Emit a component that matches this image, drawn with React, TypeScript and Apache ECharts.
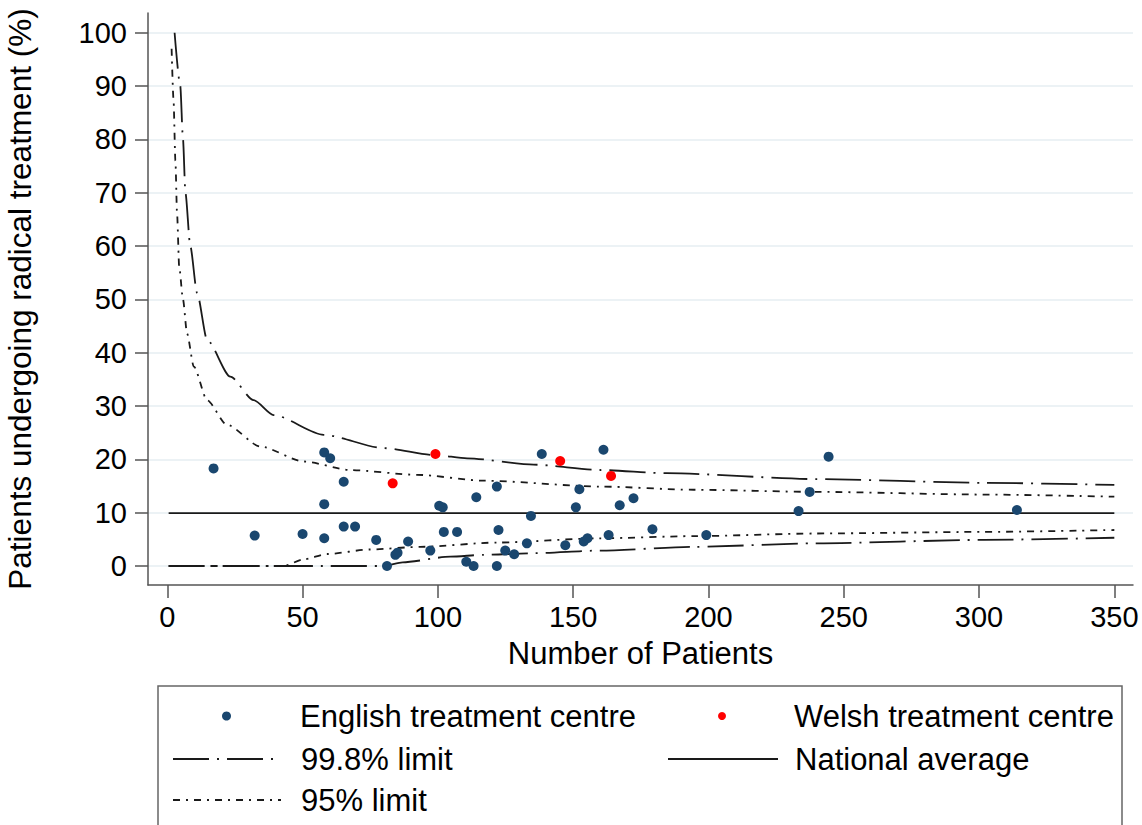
import React, { useEffect, useRef } from "react";
import * as echarts from "echarts";

const englishCentres: [number, number][] = [
  [17.1, 18.3], [32.3, 5.7], [50.0, 6.0], [58.0, 21.3], [60.2, 20.2], [58.0, 11.6],
  [58.0, 5.2], [65.2, 15.8], [65.2, 7.4], [69.4, 7.4], [77.2, 4.9], [81.2, 0],
  [84.3, 2.1], [85.1, 2.5], [89.0, 4.6], [97.2, 2.9], [100.5, 11.3], [101.8, 11.0],
  [102.2, 6.4], [107.1, 6.4], [114.2, 12.9], [110.5, 0.8], [113.2, 0], [121.8, 14.9],
  [122.4, 6.75], [121.8, 0], [124.9, 2.9], [128.2, 2.2], [132.9, 4.25], [134.4, 9.4],
  [138.4, 21.0], [147.1, 3.9], [151.0, 11.0], [152.3, 14.4], [153.9, 4.6], [155.3, 5.2],
  [161.2, 21.8], [163.1, 5.8], [167.2, 11.4], [172.3, 12.7], [179.3, 6.9], [199.2, 5.8],
  [233.3, 10.3], [237.4, 13.9], [244.4, 20.5], [314.0, 10.5],
];

const welshCentres: [number, number][] = [
  [83.3, 15.5], [99.1, 21.0], [145.2, 19.7], [164.0, 16.9],
];

const upper998: [number, number][] = [
  [2.7, 100], [4.8, 90], [5.8, 80], [6.7, 70], [8.5, 60], [11, 51.2], [14.7, 42.4],
  [23.3, 35.5], [31.9, 31.1], [39.3, 28.3], [57.8, 24.6], [80, 22.1], [99, 20.8],
  [110.8, 20.2], [135.4, 19.0], [160, 18.0], [184.6, 17.4], [240, 16.3], [301.7, 15.6],
  [350, 15.2],
];

const lower998: [number, number][] = [
  [0.5, 0], [80, 0], [87, 0.7], [104.6, 1.75], [117, 2.1], [135.4, 2.4], [160, 2.9],
  [194.5, 3.6], [240, 4.25], [301.7, 4.9], [350, 5.3],
];

const upper95: [number, number][] = [
  [1.6, 97], [2.3, 87.4], [3.0, 76], [3.6, 66.2], [4.4, 56.1], [5.8, 50], [7.3, 43.6],
  [9.8, 37.4], [14.7, 31.1], [22, 26.5], [34.4, 22.4], [50.4, 19.6], [67.6, 18],
  [92.3, 17.1], [117, 16.0], [160, 14.9], [194.5, 14.3], [240, 13.9], [301.7, 13.4],
  [350, 13.0],
];

const lower95: [number, number][] = [
  [0.5, 0], [43, 0], [50.4, 1.25], [59, 2.25], [75, 3.1], [93.5, 3.6], [121.8, 4.4],
  [160, 5.2], [194.5, 5.6], [240, 6.1], [301.7, 6.4], [350, 6.75],
];

const nationalAverage: [number, number][] = [[0.5, 9.9], [350, 9.9]];

const xTicks = [0, 50, 100, 150, 200, 250, 300, 350];
const yTicks = [0, 10, 20, 30, 40, 50, 60, 70, 80, 90, 100];

const FONT = "'Liberation Sans', Arial, Helvetica, sans-serif";
const LINE_COLOR = "#1a1a1a";
const DASH_998 = [36, 8, 2, 8];
const DASH_95 = [7, 6, 2, 6];

export default function App() {
  const ref = useRef<HTMLDivElement>(null);

  useEffect(() => {
    if (!ref.current) return;
    const chart = echarts.init(ref.current, null, { renderer: "svg" });

    const legendText = {
      fontFamily: FONT,
      fontSize: 31,
      color: "#000",
      lineHeight: 32,
    };

    const mkLegend = (
      name: string,
      left: number,
      cy: number,
      w: number,
      h: number,
      pad: number,
      isLine: boolean
    ) => ({
      data: [name],
      left,
      top: cy - 16,
      orient: "horizontal",
      padding: 0,
      itemWidth: w,
      itemHeight: h,
      selectedMode: false,
      ...(isLine ? { itemStyle: { opacity: 0 } } : {}),
      textStyle: { ...legendText, padding: [0, 0, 0, pad] },
    });

    const limitLine = (name: string, data: [number, number][], dash: number[]) => ({
      name,
      type: "line",
      data,
      symbol: "none",
      showSymbol: false,
      smooth: 0.25,
      smoothMonotone: "x",
      z: 3,
      lineStyle: { color: LINE_COLOR, width: 1.8, type: dash },
      itemStyle: { color: LINE_COLOR },
    });

    chart.setOption({
      animation: false,
      backgroundColor: "#fff",
      textStyle: { fontFamily: FONT },
      grid: { left: 148, right: 9, top: 13, bottom: 240, containLabel: false, outerBoundsMode: "none" },
      xAxis: {
        type: "value",
        min: -7.13,
        max: 356.9,
        name: "Number of Patients",
        nameLocation: "middle",
        nameGap: 52,
        nameTextStyle: { fontFamily: FONT, fontSize: 31, color: "#000", lineHeight: 32 },
        axisLine: { show: true, onZero: false, lineStyle: { color: "#555", width: 1.5 } },
        axisTick: { show: true, length: 13, customValues: xTicks, lineStyle: { color: "#555", width: 1.5 } },
        axisLabel: { customValues: xTicks, margin: 17, fontSize: 29, color: "#000", fontFamily: FONT },
        splitLine: { show: false },
      },
      yAxis: {
        type: "value",
        min: -3.56,
        max: 103.7,
        name: "Patients undergoing radical treatment (%)",
        nameLocation: "middle",
        nameRotate: 90,
        nameGap: 112,
        nameTextStyle: { fontFamily: FONT, fontSize: 31.5, color: "#000", lineHeight: 32 },
        axisLine: { show: true, onZero: false, lineStyle: { color: "#555", width: 1.5 } },
        axisTick: { show: true, length: 13, customValues: yTicks, lineStyle: { color: "#555", width: 1.5 } },
        axisLabel: { customValues: yTicks, margin: 21, fontSize: 29, color: "#000", fontFamily: FONT },
        splitLine: { show: false },
      },
      legend: [
        mkLegend("English treatment centre", 222, 716, 9, 9, 64, false),
        mkLegend("Welsh treatment centre", 718, 716, 8, 8, 63, false),
        mkLegend("99.8% limit", 172, 759, 108, 4, 15, true),
        mkLegend("National average", 667, 759, 110, 4, 12, true),
        mkLegend("95% limit", 172, 800, 108, 4, 15, true),
      ],
      graphic: [
        {
          type: "rect",
          shape: { x: 158, y: 686, width: 964, height: 170 },
          style: { fill: "none", stroke: "#666", lineWidth: 1.5 },
          silent: true,
        },
      ],
      series: [
        {
          name: "grid",
          type: "line",
          data: [],
          z: 0,
          silent: true,
          markLine: {
            silent: true,
            z: 0,
            symbol: ["none", "none"],
            label: { show: false },
            lineStyle: { color: "#e6eef2", width: 1.5, type: "solid" },
            data: yTicks.map((v) => ({ yAxis: v })),
          },
        },
        limitLine("99.8% limit", upper998, DASH_998),
        limitLine("99.8% limit", lower998, DASH_998),
        limitLine("95% limit", upper95, DASH_95),
        limitLine("95% limit", lower95, DASH_95),
        {
          name: "National average",
          type: "line",
          data: nationalAverage,
          symbol: "none",
          showSymbol: false,
          z: 3,
          lineStyle: { color: LINE_COLOR, width: 1.8, type: "solid" },
          itemStyle: { color: LINE_COLOR },
        },
        {
          name: "English treatment centre",
          type: "scatter",
          data: englishCentres,
          symbol: "circle",
          symbolSize: 10,
          z: 5,
          itemStyle: { color: "#1a476f", opacity: 1 },
        },
        {
          name: "Welsh treatment centre",
          type: "scatter",
          data: welshCentres,
          symbol: "circle",
          symbolSize: 10,
          z: 6,
          itemStyle: { color: "#ff0000", opacity: 1 },
        },
      ],
    });

    return () => chart.dispose();
  }, []);

  return (
    <div
      ref={ref}
      style={{ position: "absolute", left: 0, top: 0, width: 1142, height: 825 }}
    />
  );
}
